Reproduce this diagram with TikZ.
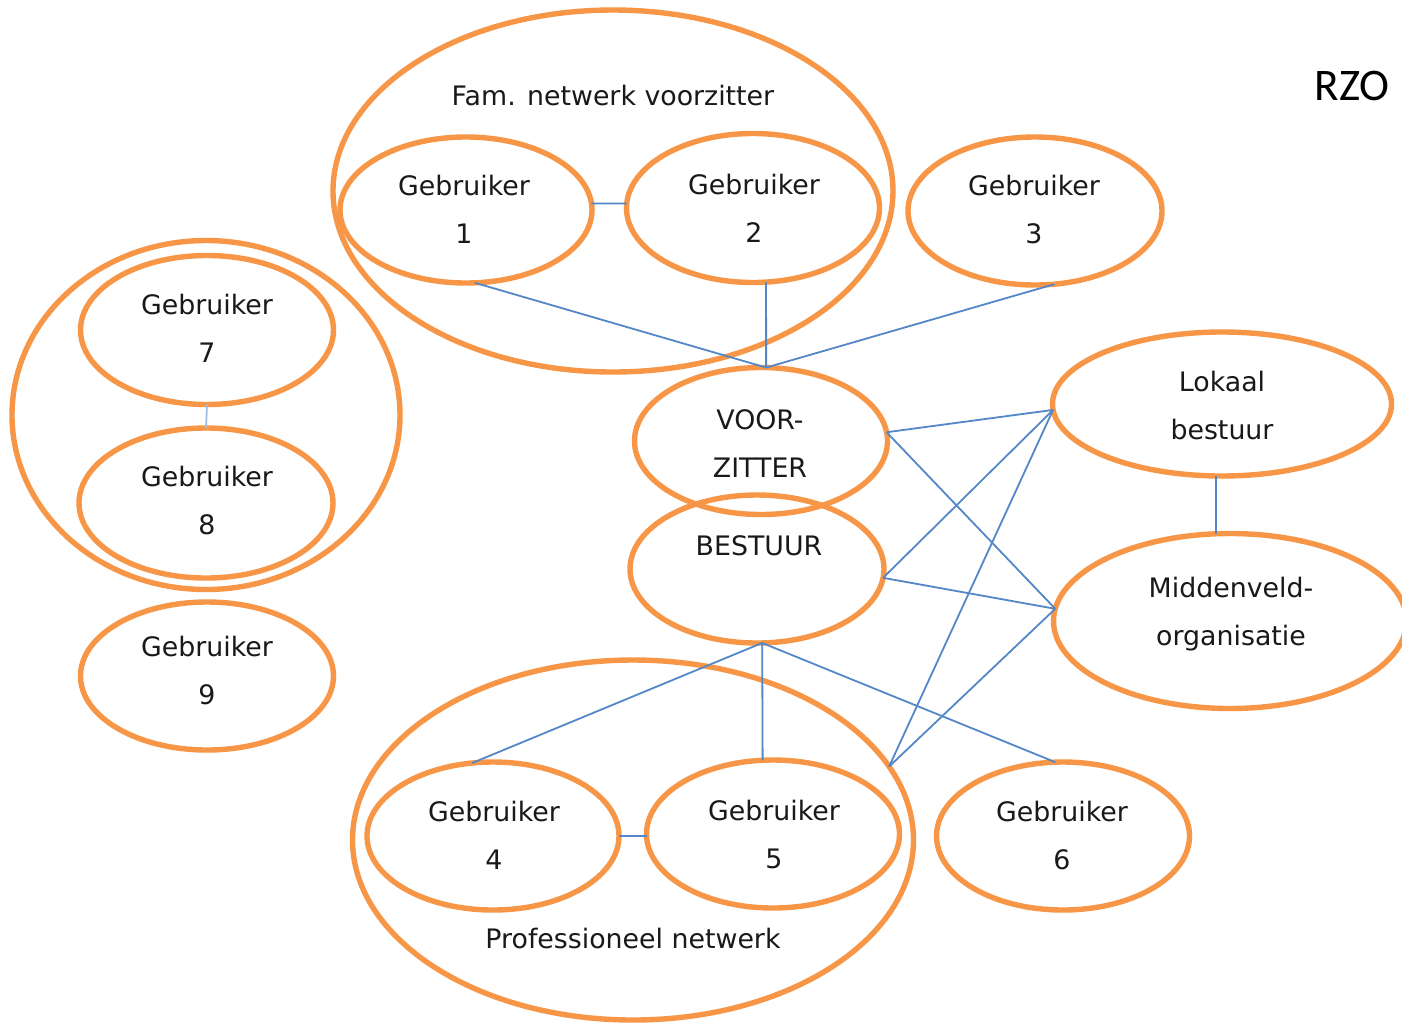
\documentclass[tikz,border=0pt]{standalone}
\usepackage{fontspec}
\setmainfont{DejaVu Sans}
\newfontfamily\rzofont{Carlito}
\usetikzlibrary{shapes.geometric}
\definecolor{orng}{RGB}{247,150,70}
\definecolor{conblue}{RGB}{84,135,200}
\definecolor{lightcon}{RGB}{160,190,225}
\definecolor{txt}{RGB}{25,25,25}
\tikzset{
  ell/.style 2 args={ellipse, draw=orng, line width=2.7pt, minimum width=#1pt, minimum height=#2pt, inner sep=0pt, outer sep=0pt},
  lbl/.style={text=txt, font=\fontsize{13.4pt}{24pt}\selectfont, align=center, inner sep=0pt, anchor=base},
  conn/.style={draw=conblue, line width=0.9pt},
  thinconn/.style={draw=lightcon, line width=0.9pt}
}
\begin{document}
\begin{tikzpicture}[x=0.5pt, y=-0.5pt]
\useasboundingbox (0,0) rectangle (1402,1024);
\clip (0,0) rectangle (1402,1024);
\fill[white] (0,0) rectangle (1402,1024);
% ellipses
\node[ell={280}{181}] (fam) at (613,191) {};
\node[ell={126}{73}] (g1) at (466,210) {};
\node[ell={126.5}{74.5}] (g2) at (753,208) {};
\node[ell={127}{74}] (g3) at (1035,211) {};
\node[ell={194}{174.5}] (grp) at (206,415) {};
\node[ell={126.5}{74.5}] (g7) at (207,330) {};
\node[ell={127}{75}] (g8) at (206,503) {};
\node[ell={126.5}{74}] (g9) at (207,676) {};
\node[ell={126.5}{73.5}] (voor) at (761,441) {};
\node[ell={127}{74}] (best) at (757,569) {};
\node[ell={169.5}{72}] (lok) at (1222,404) {};
\node[ell={176.5}{87.5}] (mid) at (1230,621) {};
\node[ell={280.5}{180}] (prof) at (633,840) {};
\node[ell={126}{74}] (g4) at (493,836) {};
\node[ell={126.5}{74}] (g5) at (773,834) {};
\node[ell={126.5}{74}] (g6) at (1063,836) {};
% labels (anchor = baseline of last line)
\node[lbl] (tfam) at (613,105) {Fam. netwerk voorzitter};
\node[lbl] (t1) at (464,243) {Gebruiker\\1};
\node[lbl] (t2) at (754,242) {Gebruiker\\2};
\node[lbl] (t3) at (1034,243) {Gebruiker\\3};
\node[lbl] (t7) at (207,362) {Gebruiker\\7};
\node[lbl] (t8) at (207,534) {Gebruiker\\8};
\node[lbl] (t9) at (207,704) {Gebruiker\\9};
\node[lbl] (tvoor) at (760,477) {VOOR-\\ZITTER};
\node[lbl] (tbest) at (759,555) {BESTUUR};
\node[lbl] (tlok) at (1222,439) {Lokaal\\bestuur};
\node[lbl] (tmid) at (1231,645) {Middenveld-\\organisatie};
\node[lbl] (t4) at (494,869) {Gebruiker\\4};
\node[lbl] (t5) at (774,868) {Gebruiker\\5};
\node[lbl] (t6) at (1062,869) {Gebruiker\\6};
\node[lbl] (tprof) at (633,948) {Professioneel netwerk};
\node[text=black, font=\rzofont\fontsize{22.6pt}{24pt}\selectfont, inner sep=0pt, anchor=base] (rzo) at (1352,100) {RZO};
% connectors
\draw[conn] (g1.3) -- (g2.178);
\draw[conn] (g1.-83) -- (voor.86);
\draw[conn] (g2.-80) -- (voor.86);
\draw[conn] (g3.-75) -- (voor.86);
\draw[thinconn] (g7.south) -- (g8.north);
\draw[conn] (voor.4) -- (lok.182);
\draw[conn] (voor.4) -- (mid.176);
\draw[conn] (best.-4) -- (lok.182);
\draw[conn] (best.-4) -- (mid.176);
\draw[conn] (prof.16) -- (lok.182);
\draw[conn] (prof.16) -- (mid.176);
\draw[conn] (best.-86) -- (g4.106);
\draw[conn] (best.-86) -- (g5.98);
\draw[conn] (best.-86) -- (g6.96);
\draw[conn] (g4.east) -- (g4.east -| g5.west);
\draw[conn] (lok.-95) -- (lok.-95 |- mid.north);
\end{tikzpicture}
\end{document}
